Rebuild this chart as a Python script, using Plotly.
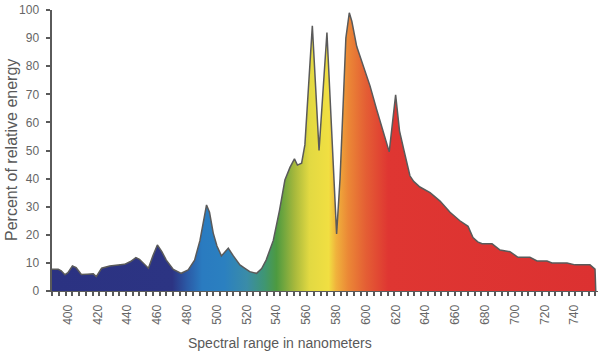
import plotly.graph_objects as go

# Spectral data: wavelength (nm) and percent of relative energy
wavelength = [389.0, 393.5, 395.5, 398, 400, 403, 405.5, 409, 413, 417, 419, 422.6, 428, 438,
              442, 445.6, 448, 451, 454, 457, 460, 463, 466, 470.7, 476, 480.7, 485, 488.6,
              491, 493, 495, 497.5, 500, 503, 505.5, 507.6, 511, 515.4, 519, 522, 526.6,
              530, 533, 537.8, 542, 545.6, 549, 552, 554, 556.8, 559, 564, 568.5, 573.8,
              580.3, 582.6, 584.8, 586.5, 588.8, 590.5, 593.8, 598, 602.7, 607.2, 611.4,
              615.6, 619.9, 622.5, 625.5, 627.5, 629.5, 632, 636.2, 643, 649.7, 656.4, 663,
              668.5, 671.8, 675, 677.9, 684.6, 690, 696.6, 699, 702, 710, 714.8, 721.5,
              724.8, 734.9, 740.3, 750.3, 752.5, 753.7, 754.2]
energy = [7.7, 7.7, 7.2, 5.8, 6.5, 8.9, 8.3, 5.9, 6.0, 6.1, 5.1, 8.1, 8.9, 9.5,
          10.5, 11.9, 11.3, 9.5, 8.1, 12.5, 16.4, 14, 11, 7.7, 6.3, 7.5, 11, 18,
          25, 30.6, 28, 20.6, 16, 12.5, 14, 15.2, 12.5, 9.3, 8, 6.9, 6.3,
          8, 11, 18, 28.8, 39.5, 44, 47, 44.8, 45.5, 52, 94.4, 50, 92,
          20.3, 40, 68, 90, 99, 96, 87, 80, 73, 64.5, 57,
          49.5, 69.8, 57, 50, 45, 41, 39, 37, 35, 32, 28, 25,
          23, 19, 17.5, 16.8, 16.8, 14.6, 14, 13, 12, 12, 10.7, 10.7,
          10, 10, 9.3, 9.3, 8.5, 7.8, 0]

x_tick_vals = list(range(400, 741, 20))
y_tick_vals = list(range(0, 101, 10))

# Spectrum colour stops (wavelength nm, colour)
spectrum_nm = [389, 470, 480, 490, 505, 520, 532, 540, 552, 562, 575, 580, 588, 600, 615, 754.2]
spectrum_col = ['#2b3282', '#2c3483', '#2b5aa6', '#2a7bc0', '#2b80c0', '#3a8ca8', '#3f9672',
                '#4d9a40', '#a6b83c', '#e2d942', '#f1df42', '#f0b23c', '#eb8836', '#e45e34',
                '#df3632', '#dc3131']

lo, hi = min(wavelength), max(wavelength)
colorscale = [[(w - lo) / (hi - lo), c] for w, c in zip(spectrum_nm, spectrum_col)]

fig = go.Figure()
fig.add_trace(go.Scatter(
    x=wavelength, y=energy, mode='lines', fill='tozeroy',
    line=dict(color='#5a5a5a', width=1.5),
    fillgradient=dict(type='horizontal', colorscale=colorscale),
    hoverinfo='skip', showlegend=False,
))

axis_col = '#5a5a5a'
fig.update_layout(
    width=600, height=358,
    margin=dict(l=52, r=2, t=10, b=67),
    paper_bgcolor='white', plot_bgcolor='white',
    font=dict(family='Liberation Sans, Arial, sans-serif', color='#595959'),
    xaxis=dict(
        range=[389.3, 755.7], tickvals=x_tick_vals, ticktext=[str(v) for v in x_tick_vals],
        tickangle=-90, ticks='', tickfont=dict(size=12, color='#666666'),
        showgrid=False, zeroline=False, showline=True, linecolor=axis_col, linewidth=1,
        minor=dict(tick0=389.5, dtick=4.5, ticks='outside', ticklen=4, tickwidth=2,
                   tickcolor=axis_col, showgrid=False),
        ticklabelstandoff=8, automargin=False,
    ),
    yaxis=dict(
        range=[0, 100], tickvals=y_tick_vals, ticks='outside', ticklen=4, tickwidth=2,
        tickcolor=axis_col, tickfont=dict(size=12, color='#666666'),
        showgrid=False, zeroline=False, showline=True, linecolor=axis_col, linewidth=2.5,
        ticklabelstandoff=4, automargin=False,
    ),
    annotations=[
        dict(text='Spectral range in nanometers', xref='paper', yref='paper',
             x=(280 - 52) / 546, y=-(343 - 291) / 281, xanchor='center', yanchor='middle',
             showarrow=False, font=dict(size=14, color='#595959')),
        dict(text='Percent of relative energy', xref='paper', yref='paper',
             x=-(52 - 11) / 546, y=(291 - 150) / 281, xanchor='center', yanchor='middle',
             textangle=-90, showarrow=False, font=dict(size=16, color='#595959')),
    ],
)

fig.write_html('out.html', config={'displayModeBar': False, 'staticPlot': True},
               post_script="document.body.style.margin='0';document.body.style.overflow='hidden';")
